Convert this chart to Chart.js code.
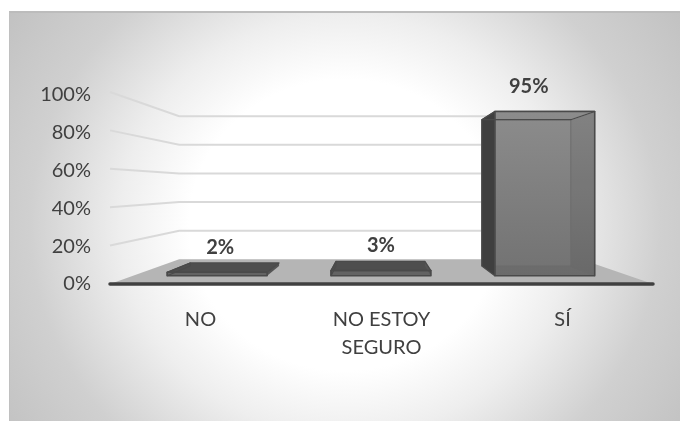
<!DOCTYPE html>
<html>
<head>
<meta charset="utf-8">
<style>
  html, body { margin: 0; padding: 0; background: #fff; overflow: hidden; }
  #card {
    position: absolute; left: 9px; top: 11px; width: 671px; height: 410px;
    border-top: 2px solid #bcbcbc; border-left: 1px solid #c0c0c0; box-sizing: border-box;
    background: radial-gradient(ellipse 300px 280px at 335px 212px, #fff 0%, #fff 52%, #eeeeee 75%, #d0d0d0 105%, #c2c2c2 135%);
  }
  canvas { position: absolute; left: 0; top: 0; }
</style>
</head>
<body>
<div id="card"></div>
<canvas id="chart" width="680" height="421"></canvas>
<script src="https://cdn.jsdelivr.net/npm/chart.js@4"></script>
<script>
const categories = ["NO", ["NO ESTOY", "SEGURO"], "SÍ"];
const percentages = [2, 3, 95];
const tickValues = [0, 20, 40, 60, 80, 100];

// perspective of the fake 3d box: points shrink towards a vanishing point
const vanishX = 376;
const vanishY = 187;
const wallX = 0.74;
const wallY = 0.745;
const barFront = 0.905;
const barBack = 0.806;
const barFrontY = 0.915;
const barBackY = 0.815;
const gridStretch = 1.016;
const labelFont = '"Lato", sans-serif';
const textColor = "#404040";
const labelShift = [3, 0, -16];

function shrink(x, y, sx, sy) {
  return [vanishX + (x - vanishX) * sx, vanishY + (y - vanishY) * sy];
}

function poly(ctx, pts, fill, stroke, width) {
  ctx.beginPath();
  pts.forEach((p, i) => i ? ctx.lineTo(p[0], p[1]) : ctx.moveTo(p[0], p[1]));
  ctx.closePath();
  if (fill) {
    ctx.fillStyle = fill;
    ctx.fill();
  }
  if (stroke) {
    ctx.strokeStyle = stroke;
    ctx.lineWidth = width;
    ctx.lineJoin = "round";
    ctx.stroke();
  }
}

const box3d = {
  id: "box3d",
  beforeDatasetsDraw(chart) {
    const { ctx, chartArea, scales } = chart;
    const y = scales.y;
    const left = chartArea.left;
    const right = chartArea.right;
    const bottom = y.getPixelForValue(0);

    ctx.save();
    // floor
    poly(ctx, [
      [left, bottom],
      shrink(left, bottom, wallX, wallY),
      shrink(right, bottom, wallX, wallY),
      [right, bottom]
    ], "#b5b5b5");

    // gridlines run up the side wall then across the back wall
    ctx.strokeStyle = "#d9d9d9";
    ctx.lineWidth = 2;
    tickValues.slice(1).forEach(v => {
      const py = bottom + (y.getPixelForValue(v) - bottom) * gridStretch;
      const a = shrink(left, py, wallX, wallY);
      const b = shrink(right, py, wallX, wallY);
      ctx.beginPath();
      ctx.moveTo(left, py);
      ctx.lineTo(a[0], a[1]);
      ctx.lineTo(b[0], b[1]);
      ctx.stroke();
    });
    ctx.restore();
  },
  afterDatasetsDraw(chart) {
    const { ctx, chartArea, scales } = chart;
    const y = scales.y;
    const bottom = y.getPixelForValue(0);
    const meta = chart.getDatasetMeta(0);

    ctx.save();
    meta.data.forEach((bar, i) => {
      const l = bar.x - bar.width / 2;
      const r = bar.x + bar.width / 2;
      const fTL = shrink(l, bar.y, barFront, barFrontY);
      const fTR = shrink(r, bar.y, barFront, barFrontY);
      const fBL = shrink(l, bar.base, barFront, barFrontY);
      const fBR = shrink(r, bar.base, barFront, barFrontY);
      const bTL = shrink(l, bar.y, barBack, barBackY);
      const bTR = shrink(r, bar.y, barBack, barBackY);
      const bBL = shrink(l, bar.base, barBack, barBackY);
      const bBR = shrink(r, bar.base, barBack, barBackY);

      if (percentages[i] > 10) {
        // tall bar is see through, the inner box shows as thin lines
        const grad = ctx.createLinearGradient(0, fTL[1], 0, fBL[1]);
        grad.addColorStop(0, "#8c8c8c");
        grad.addColorStop(1, "#727272");
        poly(ctx, [fTL, fTR, fBR, fBL], grad);
        poly(ctx, [bTR, fTR, fBR, bBR], "rgba(0,0,0,0.07)");
        poly(ctx, [bBL, bBR, fBR, fBL], "rgba(0,0,0,0.06)");
        poly(ctx, [bTL, bTR, bBR, bBL], null, "#6c6c6c", 1);
        poly(ctx, [bTR, fTR], null, "#949494", 1);
        poly(ctx, [bBR, fBR], null, "#6a6a6a", 1);
        poly(ctx, [bTL, fTL, fBL, bBL], "#3f3f3f");
      } else {
        // flat bars: dark top with a lighter stripe through it
        poly(ctx, [bTL, fTL, fBL, bBL], "#3f3f3f");
        poly(ctx, [fTL, fTR, fBR, fBL], "#636363");
        poly(ctx, [bTL, bTR, fTR, fTL], "#4e4e4e");
        poly(ctx, [bTR, fTR, fBR, bBR], "#555555");
      }
      poly(ctx, [fTL, fTR, fBR, fBL], null, "#4a4a4a", 1.6);
      poly(ctx, [bTL, fTL, fBL, bBL], null, "#4a4a4a", 1.2);
      poly(ctx, [bTL, bTR, fTR, fTL], null, "#4a4a4a", 1.2);

      // value label
      ctx.fillStyle = textColor;
      ctx.font = "bold 20px " + labelFont;
      ctx.textAlign = "center";
      ctx.textBaseline = "middle";
      ctx.fillText(percentages[i] + "%", fTL[0] / 2 + fTR[0] / 2 + labelShift[i], fTL[1] - 25);
    });

    // floor front edge
    ctx.strokeStyle = "#404040";
    ctx.lineWidth = 3.5;
    ctx.lineCap = "round";
    ctx.beginPath();
    ctx.moveTo(chartArea.left, bottom);
    ctx.lineTo(chartArea.right, bottom);
    ctx.stroke();
    ctx.restore();
  }
};

new Chart(document.getElementById("chart"), {
  type: "bar",
  data: {
    labels: categories,
    datasets: [{
      data: percentages,
      backgroundColor: "transparent",
      barPercentage: 0.61,
      categoryPercentage: 1
    }]
  },
  options: {
    responsive: false,
    animation: false,
    layout: { padding: { top: 95, right: 27, left: 0, bottom: 0 } },
    plugins: { legend: { display: false }, tooltip: { enabled: false } },
    scales: {
      x: {
        grid: { display: false },
        border: { display: false },
        ticks: {
          color: textColor,
          font: { family: labelFont, size: 20, lineHeight: 1.42 },
          padding: 13,
          maxRotation: 0
        },
        afterFit(scale) { scale.height = 137; }
      },
      y: {
        min: 0,
        max: 100,
        grid: { display: false, drawTicks: false },
        border: { display: false },
        afterFit(scale) { scale.width = 110; },
        afterBuildTicks(scale) { scale.ticks = tickValues.map(v => ({ value: v })); },
        ticks: {
          color: textColor,
          font: { family: labelFont, size: 20 },
          padding: 19,
          callback: v => v + "%"
        }
      }
    }
  },
  plugins: [box3d]
});
</script>
</body>
</html>
